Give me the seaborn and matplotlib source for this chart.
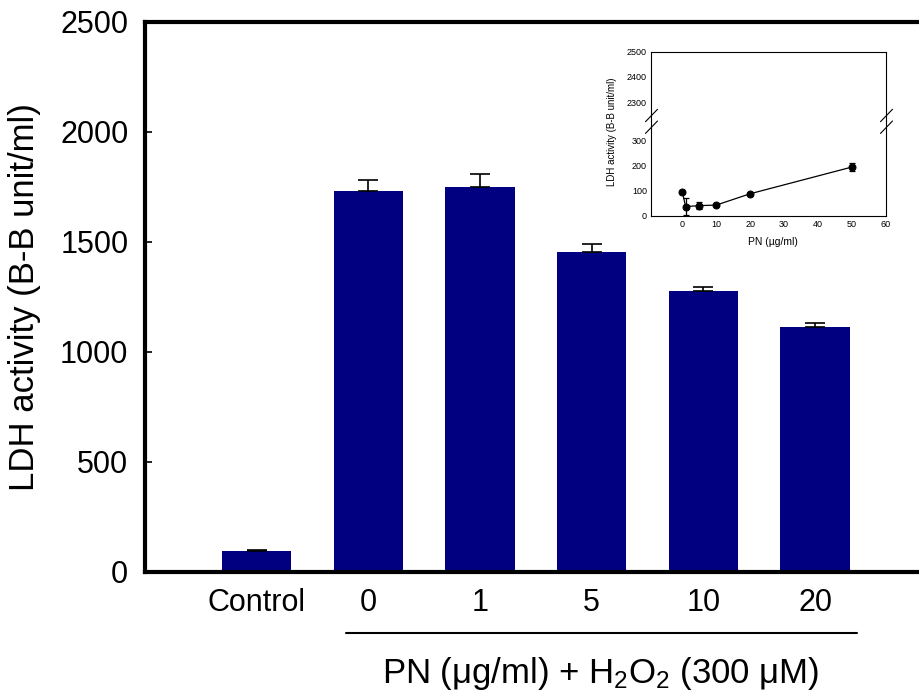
import numpy as np
import pandas as pd
import matplotlib
matplotlib.use("Agg")
import matplotlib.pyplot as plt
from matplotlib.lines import Line2D
import seaborn as sns

# Main bar chart: LDH release after H2O2 challenge with PN pretreatment
groups = ["Control", "0", "1", "5", "10", "20"]
ldh_mean = [95, 1731, 1751, 1452, 1274, 1111]
ldh_err = [5, 50, 56, 36, 20, 20]

# Inset: PN alone
pn_dose = [0, 1, 5, 10, 20, 50]
pn_ldh = [95, 36, 40, 42, 87, 193]
pn_err = [4, 34, 13, 5, 4, 15]

y_ticks = [0, 500, 1000, 1500, 2000, 2500]
inset_upper_ticks = [2300, 2400, 2500]
inset_lower_ticks = [0, 100, 200, 300]
inset_x_ticks = [0, 10, 20, 30, 40, 50, 60]

sns.set_style("white")
plt.rcParams["font.family"] = ["Liberation Sans", "DejaVu Sans"]
plt.rcParams["mathtext.fontset"] = "custom"
plt.rcParams["mathtext.rm"] = "Liberation Sans"
for key in ["text.color", "axes.labelcolor", "xtick.color", "ytick.color",
            "axes.edgecolor"]:
    plt.rcParams[key] = "black"

W, H = 920, 696
fig = plt.figure(figsize=(W / 100, H / 100), dpi=100)


def fx(px):
    return px / W


def fy(py):
    return 1 - py / H


# ---------------- main axes ----------------
ax = fig.add_axes([fx(145), fy(571.5), 1 - fx(145), (571.5 - 22) / H])
df = pd.DataFrame({"group": groups, "ldh": ldh_mean})
sns.barplot(data=df, x="group", y="ldh", order=groups, color="#000080",
            saturation=1, width=0.62, linewidth=0, ax=ax, errorbar=None)
xpos = np.arange(len(groups))
ax.errorbar(xpos, ldh_mean, yerr=[np.zeros(len(ldh_err)), ldh_err],
            fmt="none", ecolor="black", elinewidth=1.2, capsize=7.5,
            capthick=1.2, zorder=5)

ax.set_xlim(-1.0, 5.94)
ax.set_ylim(0, 2500)
ax.set_yticks(y_ticks)
ax.set_xlabel("")
ax.set_ylabel("LDH activity (B-B unit/ml)", fontsize=25, labelpad=14)
ax.tick_params(axis="y", direction="in", length=5, width=1.2, pad=12,
               labelsize=22, left=True)
ax.tick_params(axis="x", length=0, pad=12, labelsize=22)
for side in ["left", "bottom", "top"]:
    ax.spines[side].set_linewidth(3)
    ax.spines[side].set_color("black")
ax.spines["right"].set_visible(False)

# group bracket under the PN-treated bars and the axis caption
ax.plot([0.8, 5.38], [-0.112, -0.112], color="black", lw=1.5,
        transform=ax.get_xaxis_transform(), clip_on=False)
ax.text(3.08, -0.185, r"PN ($\mathregular{\mu}$g/ml) + H$\mathregular{_2}$O$\mathregular{_2}$ (300 $\mathregular{\mu}$M)",
        transform=ax.get_xaxis_transform(), ha="center", va="center",
        fontsize=25, color="black")

# ---------------- inset with broken y axis ----------------
left, right = 651, 886
top, brk, bottom = 51.7, 121, 215.7
px_per_unit = (bottom - 140) / 300.0

ax_up = fig.add_axes([fx(left), fy(brk), (right - left) / W, (brk - top) / H])
ax_lo = fig.add_axes([fx(left), fy(bottom), (right - left) / W, (bottom - brk) / H])

for a in (ax_up, ax_lo):
    sns.lineplot(x=pn_dose, y=pn_ldh, ax=a, color="black", lw=0.9,
                 marker="o", markersize=5, markeredgecolor="black")
    a.errorbar(pn_dose, pn_ldh, yerr=pn_err, fmt="none", ecolor="black",
               elinewidth=0.9, capsize=2, capthick=0.9)
    a.set_xlim(-9.2, 60)
    a.set_facecolor("none")
    for s in a.spines.values():
        s.set_linewidth(0.8)
        s.set_color("black")
    a.tick_params(direction="in", length=2.5, width=0.7, labelsize=6.5, pad=3)

ax_up.set_ylim(2500 - (brk - top) / px_per_unit, 2500)
ax_up.set_yticks(inset_upper_ticks)
ax_up.set_xticks([])
ax_up.spines["bottom"].set_visible(False)

ax_lo.set_ylim(0, (bottom - brk) / px_per_unit)
ax_lo.set_yticks(inset_lower_ticks)
ax_lo.set_xticks(inset_x_ticks)
ax_lo.spines["top"].set_visible(False)

# break marks across both side spines
for cx in (left + 0.5, right + 0.5):
    for cy in (115.5, 127.2):
        fig.add_artist(Line2D([fx(cx - 6), fx(cx + 6)], [fy(cy + 6.2), fy(cy - 6.2)],
                              color="black", lw=0.8, transform=fig.transFigure))

fig.text(fx(612), fy(131.7), "LDH activity (B-B unit/ml)", rotation=90,
         ha="center", va="center", fontsize=7)
fig.text(fx(773), fy(241.7), "PN (\u00b5g/ml)", ha="center", va="center",
         fontsize=7.5)

fig.savefig("out.png", dpi=100, facecolor="white")
